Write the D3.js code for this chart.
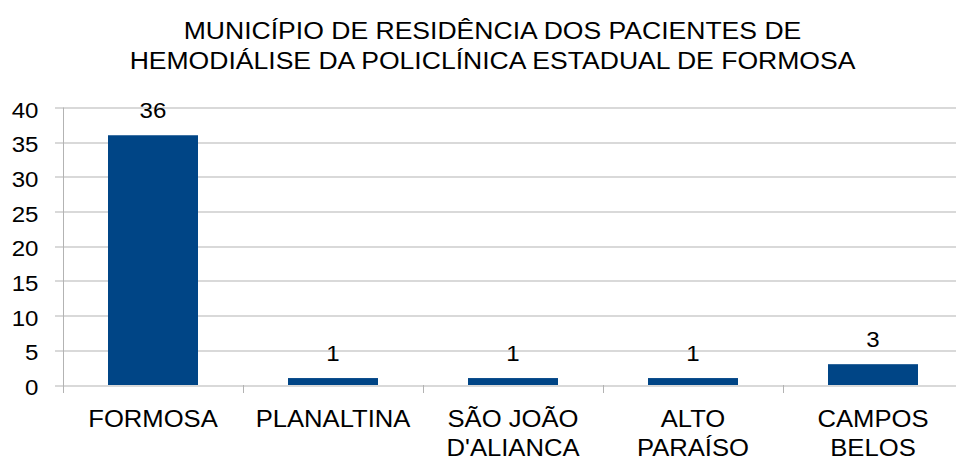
<!DOCTYPE html>
<html>
<head>
<meta charset="utf-8">
<script src="https://cdn.jsdelivr.net/npm/d3@7"></script>
<style>
  body { margin: 0; background: #fff; }
  text { font-family: "Liberation Sans", Arial, sans-serif; fill: #000; }
</style>
</head>
<body>
<div id="chart"></div>
<script>
// chart data
var titleLines = ["MUNICÍPIO DE RESIDÊNCIA DOS PACIENTES DE", "HEMODIÁLISE DA POLICLÍNICA ESTADUAL DE FORMOSA"];
var municipios = [["FORMOSA"], ["PLANALTINA"], ["SÃO JOÃO", "D'ALIANCA"], ["ALTO", "PARAÍSO"], ["CAMPOS", "BELOS"]];
var pacientes = [36, 1, 1, 1, 3];
var yTicks = [0, 5, 10, 15, 20, 25, 30, 35, 40];

var W = 956, H = 459;
var margin = {top: 107.5, right: -7, bottom: 74, left: 63};
var width = W - margin.left - margin.right;
var height = H - margin.top - margin.bottom;

var svg = d3.select("#chart").append("svg")
    .attr("width", W)
    .attr("height", H);

// the text in the original is a bit wider than the font, so stretch it
function label(parent, x, y, str, size, sx, anchor) {
  parent.append("g")
      .attr("transform", "translate(" + x + "," + y + ") scale(" + sx + ",1)")
    .append("text")
      .attr("text-anchor", anchor || "middle")
      .style("font-size", size + "px")
      .text(str);
}

// title
titleLines.forEach(function(t, i) {
  label(svg, 492.5, 38.5 + i * 30, t, 23.3, 1.14);
});

var g = svg.append("g")
    .attr("transform", "translate(" + margin.left + "," + margin.top + ")");

var keys = municipios.map(function(d) { return d.join(" "); });

var x = d3.scaleBand()
    .domain(keys)
    .range([0, width])
    .paddingInner(0.5)
    .paddingOuter(0.25);

var xTicks = d3.scaleBand().domain(keys).range([0, width]);

var y = d3.scaleLinear()
    .domain([0, 40])
    .range([height, 0]);

// gridlines
g.selectAll(".grid")
  .data(yTicks)
  .enter().append("line")
    .attr("x1", -8)
    .attr("x2", width)
    .attr("y1", function(d) { return Math.round(y(d)) + 0.5; })
    .attr("y2", function(d) { return Math.round(y(d)) + 0.5; })
    .attr("stroke", "#b3b3b3")
    .attr("stroke-width", 1);

// y axis labels
yTicks.forEach(function(d) {
  label(g, -24.5, y(d) + 10, d, 22.3, 1.08, "end");
});

// y axis line
g.append("line")
    .attr("x1", 0.5).attr("x2", 0.5)
    .attr("y1", y(40)).attr("y2", y(0) + 8)
    .attr("stroke", "#b3b3b3");

// category tick marks
g.selectAll(".xtick")
  .data(keys.slice(1))
  .enter().append("line")
    .attr("x1", function(d) { return Math.round(xTicks(d)) + 0.5; })
    .attr("x2", function(d) { return Math.round(xTicks(d)) + 0.5; })
    .attr("y1", y(0))
    .attr("y2", y(0) + 8)
    .attr("stroke", "#b3b3b3");

// bars
g.selectAll(".bar")
  .data(pacientes)
  .enter().append("rect")
    .attr("x", function(d, i) { return x(keys[i]); })
    .attr("width", x.bandwidth())
    .attr("y", function(d) { return y(d); })
    .attr("height", function(d) { return y(0) - y(d); })
    .attr("fill", "#004586");

// value labels
pacientes.forEach(function(d, i) {
  label(g, x(keys[i]) + x.bandwidth() / 2, y(d) - 17.5, d, 22.3, 1.08);
});

// category labels
municipios.forEach(function(lines, i) {
  lines.forEach(function(t, j) {
    label(g, x(keys[i]) + x.bandwidth() / 2, height + 41.5 + j * 29, t, 23.3, 1.1);
  });
});
</script>
</body>
</html>
